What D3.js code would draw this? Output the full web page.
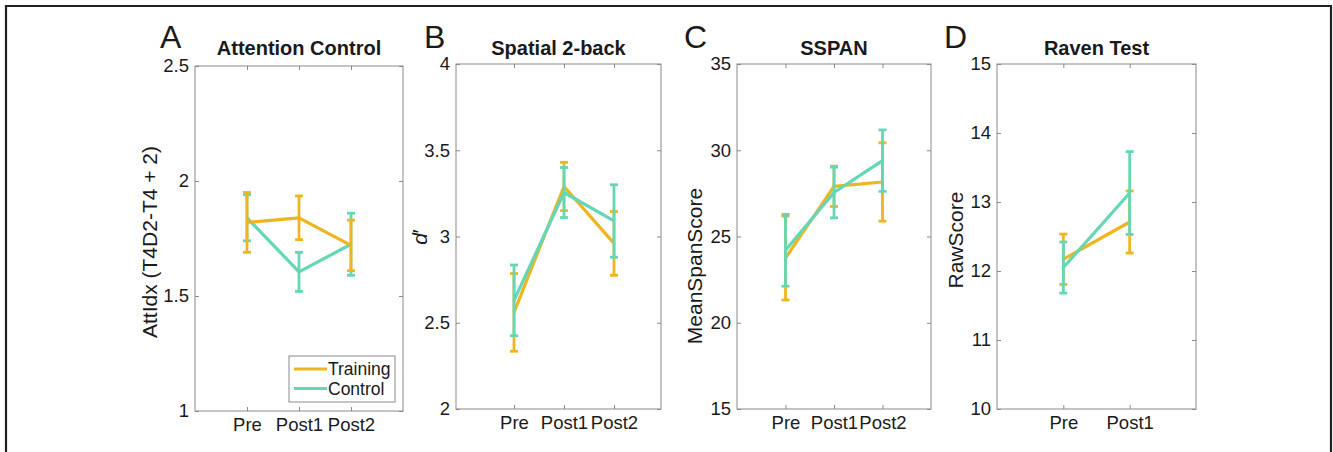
<!DOCTYPE html>
<html>
<head>
<meta charset="utf-8">
<script src="https://cdn.jsdelivr.net/npm/d3@7"></script>
<style>
  body { margin: 0; background: #fff; }
  svg { display: block; }
  text { font-family: "Liberation Sans", Arial, Helvetica, sans-serif; fill: #1a1a1a; }
</style>
</head>
<body>
<svg id="fig" width="1333" height="452"></svg>
<script>
// ---- data ----
const panelLetters = ["A", "B", "C", "D"];
const panelTitles = ["Attention Control", "Spatial 2-back", "SSPAN", "Raven Test"];
const yLabels = ["AttIdx (T4D2-T4 + 2)", "d′", "MeanSpanScore", "RawScore"];
const sessions = [
  ["Pre", "Post1", "Post2"],
  ["Pre", "Post1", "Post2"],
  ["Pre", "Post1", "Post2"],
  ["Pre", "Post1"]
];
const yLimits = [[1, 2.5], [2, 4], [15, 35], [10, 15]];
const yTickValues = [
  [1, 1.5, 2, 2.5],
  [2, 2.5, 3, 3.5, 4],
  [15, 20, 25, 30, 35],
  [10, 11, 12, 13, 14, 15]
];
const groupNames = ["Training", "Control"];
const trainingMean = [
  [1.82, 1.84, 1.72],
  [2.56, 3.29, 2.96],
  [23.75, 27.91, 28.16],
  [12.17, 12.71]
];
const trainingErr = [
  [0.13, 0.095, 0.11],
  [0.225, 0.14, 0.185],
  [2.43, 1.17, 2.27],
  [0.365, 0.45]
];
const controlMean = [
  [1.84, 1.605, 1.725],
  [2.63, 3.255, 3.09],
  [24.2, 27.55, 29.4],
  [12.05, 13.13]
];
const controlErr = [
  [0.10, 0.085, 0.135],
  [0.205, 0.145, 0.21],
  [2.08, 1.47, 1.78],
  [0.37, 0.6]
];

// ---- appearance / layout ----
const colTraining = "#efb51f";
const colControl = "#63d7b7";
const axisGrey = "#8a8a8a";
const frameColor = "#231f20";

const panels = [
  { left: 195, right: 403, top: 66, bottom: 411, xlim: [0, 4], letterX: 160, labelX: 157, labelY: 242, trainingOnTop: true },
  { left: 456, right: 661, top: 64, bottom: 409, xlim: [-0.16, 3.94], letterX: 424, labelX: 427, labelY: 237, trainingOnTop: false },
  { left: 737, right: 931, top: 64, bottom: 409, xlim: [0, 4], letterX: 684, labelX: 702, labelY: 266, trainingOnTop: false },
  { left: 997, right: 1196, top: 64, bottom: 409, xlim: [0, 3], letterX: 944, labelX: 963, labelY: 240, trainingOnTop: false }
];

const svg = d3.select("#fig");

// outer frame (open at the bottom)
svg.append("path")
  .attr("d", "M6,452 L6,6 L1331,6 L1331,452")
  .attr("fill", "none")
  .attr("stroke", frameColor)
  .attr("stroke-width", 2.2);

panels.forEach((p, i) => {
  const cats = sessions[i];
  const x = d3.scaleLinear().domain(p.xlim).range([p.left, p.right]);
  const y = d3.scaleLinear().domain(yLimits[i]).range([p.bottom, p.top]);
  const xi = cats.map((c, k) => k + 1);
  const g = svg.append("g");

  // axes box
  g.append("rect")
    .attr("x", p.left).attr("y", p.top)
    .attr("width", p.right - p.left).attr("height", p.bottom - p.top)
    .attr("fill", "#fff").attr("stroke", axisGrey).attr("stroke-width", 1);

  const tickFmt = d3.format("~g");
  const styleAxis = sel => {
    sel.select(".domain").remove();
    sel.selectAll(".tick line").attr("stroke", axisGrey);
    sel.selectAll(".tick text")
      .attr("fill", "#1a1a1a")
      .style("font-size", "18.5px")
      .style("font-family", "'Liberation Sans', Arial, sans-serif");
  };

  // left axis, inward ticks
  g.append("g").attr("transform", `translate(${p.left},0)`)
    .call(d3.axisLeft(y).tickValues(yTickValues[i]).tickFormat(tickFmt)
      .tickSizeInner(-4).tickSizeOuter(0).tickPadding(6))
    .call(styleAxis);
  // right axis mirrored ticks
  g.append("g").attr("transform", `translate(${p.right},0)`)
    .call(d3.axisRight(y).tickValues(yTickValues[i]).tickFormat("")
      .tickSizeInner(-4).tickSizeOuter(0))
    .call(styleAxis);
  // bottom axis
  g.append("g").attr("transform", `translate(0,${p.bottom})`)
    .call(d3.axisBottom(x).tickValues(xi).tickFormat(d => cats[d - 1])
      .tickSizeInner(-4).tickSizeOuter(0).tickPadding(7))
    .call(styleAxis);
  // top axis mirrored ticks
  g.append("g").attr("transform", `translate(0,${p.top})`)
    .call(d3.axisTop(x).tickValues(xi).tickFormat("")
      .tickSizeInner(-4).tickSizeOuter(0))
    .call(styleAxis);

  // series
  const series = [
    { name: groupNames[0], mean: trainingMean[i], err: trainingErr[i], color: colTraining },
    { name: groupNames[1], mean: controlMean[i], err: controlErr[i], color: colControl }
  ];
  if (p.trainingOnTop) series.reverse();

  const line = d3.line().x((d, k) => x(xi[k])).y(d => y(d));
  const capHalf = 4;
  series.forEach(s => {
    const sg = g.append("g");
    sg.append("path")
      .attr("d", line(s.mean))
      .attr("fill", "none")
      .attr("stroke", s.color)
      .attr("stroke-width", 3.2)
      .attr("stroke-linejoin", "round");
    s.mean.forEach((m, k) => {
      const cx = x(xi[k]);
      const yHi = y(m + s.err[k]);
      const yLo = y(m - s.err[k]);
      sg.append("line").attr("x1", cx).attr("x2", cx).attr("y1", yHi).attr("y2", yLo)
        .attr("stroke", s.color).attr("stroke-width", 2.8);
      [yHi, yLo].forEach(yy => {
        sg.append("line").attr("x1", cx - capHalf).attr("x2", cx + capHalf)
          .attr("y1", yy).attr("y2", yy)
          .attr("stroke", s.color).attr("stroke-width", 2.8);
      });
    });
  });

  // title
  g.append("text")
    .attr("x", (p.left + p.right) / 2).attr("y", 55)
    .attr("text-anchor", "middle")
    .style("font-size", "20px").style("font-weight", "bold")
    .text(panelTitles[i]);

  // panel letter
  g.append("text")
    .attr("x", p.letterX).attr("y", 48)
    .style("font-size", "32px")
    .text(panelLetters[i]);

  // y label
  const yl = g.append("text")
    .attr("transform", `translate(${p.labelX},${p.labelY}) rotate(-90)`)
    .attr("text-anchor", "middle")
    .style("font-size", "21px");
  if (yLabels[i] === "d′") {
    yl.append("tspan").style("font-style", "italic").text("d");
    yl.append("tspan").text("′");
  } else {
    yl.text(yLabels[i]);
  }

  // legend (first panel only)
  if (i === 0) {
    const lx = p.right - 114, ly = p.bottom - 55, lw = 106, lh = 46;
    const lg = g.append("g");
    lg.append("rect").attr("x", lx).attr("y", ly).attr("width", lw).attr("height", lh)
      .attr("fill", "#fff").attr("stroke", axisGrey).attr("stroke-width", 1);
    [{ name: groupNames[0], color: colTraining }, { name: groupNames[1], color: colControl }]
      .forEach((s, k) => {
        const yy = ly + 13 + k * 19.5;
        lg.append("line").attr("x1", lx + 5).attr("x2", lx + 38).attr("y1", yy).attr("y2", yy)
          .attr("stroke", s.color).attr("stroke-width", 3.2);
        lg.append("text").attr("x", lx + 39).attr("y", yy + 6)
          .style("font-size", "17.5px").text(s.name);
      });
  }
});
</script>
</body>
</html>
